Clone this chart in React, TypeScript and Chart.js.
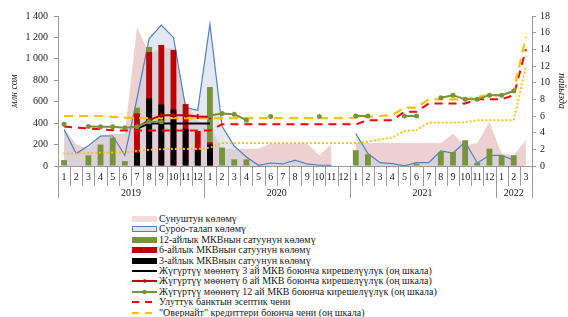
import React, { useEffect, useRef } from "react";
import { Chart, registerables } from "chart.js";

Chart.register(...registerables);

const monthLabels = [
  "1","2","3","4","5","6","7","8","9","10","11","12",
  "1","2","3","4","5","6","7","8","9","10","11","12",
  "1","2","3","4","5","6","7","8","9","10","11","12",
  "1","2","3",
];
const yearLabels = ["2019", "2020", "2021", "2022"];
const yearMonthCounts = [12, 12, 12, 3];

// left scale, млн сом
const supplyVolume = [
  350, 200, 160, 290, 300, 300, 1300, 1050, 1100, 1100, 600, 420,
  380, 160, 160, 160, 160, 210, 210, 210, 210, 100, 205, null,
  215, 215, 215, 215, 215, 215, 215, 215, 302, 193, 215, 411,
  116, 100, 246,
];
const demandVolume = [
  340, 116, 190, 280, 280, 100, 630, 1190, 1315, 1200, 545, 520,
  1325, 370, 185, 84, 7, 28, 19, 55, 19, 7, 7, null,
  302, 116, 31, 22, 2, 31, 31, 140, 121, 224, 28, 100,
  100, 55, null,
];
const sales12m = [
  55, null, 100, 200, 265, 45, 545, 1112, null, null, null, null,
  737, 172, 62, 62, null, null, null, null, null, null, null, null,
  147, 109, null, null, null, 22, null, 131, 131, 240, 31, 162,
  100, 100, null,
];
const sales6m = [
  null, null, null, null, null, null, 490, 1064, 1130, 1084, 578, 327,
  222, null, null, null, null, null, null, null, null, null, null, null,
  null, null, null, null, null, null, null, null, null, null, null, null,
  null, null, null,
];
const sales3m = [
  null, null, null, null, null, null, 123, 630, 574, 527, 349, 150,
  200, null, null, null, null, null, null, null, null, null, null, null,
  null, null, null, null, null, null, null, null, null, null, null, null,
  null, null, null,
];

// right scale, %
const yield3m = [
  null, null, null, null, null, null, 4.5, 5.1, 5.1, 5.1, 5.1, 5.1,
  5.1, null, null, null, null, null, null, null, null, null, null, null,
  null, null, null, null, null, null, null, null, null, null, null, null,
  null, null, null,
];
const yield6m = [
  null, null, null, null, null, null, 4.6, 5.5, 6.1, 6.1, 6.1, 5.95,
  5.9, null, null, null, null, null, null, null, null, null, null, null,
  null, null, null, null, null, null, null, null, null, null, null, null,
  null, null, null,
];
const yield12m = [
  5.0, null, 4.75, 4.7, 4.7, 4.6, 4.7, 5.3, 5.3, null, null, null,
  6.05, 6.3, 6.2, 5.5, null, 5.95, null, null, null, 5.95, null, null,
  6.0, 6.0, null, null, 6.0, 6.0, null, 8.2, 8.5, 8.0, 8.0, 8.5,
  8.5, 9.0, null,
];
const discountRate = [
  4.75, 4.6, 4.5, 4.4, 4.3, 4.25, 4.25, 4.25, 4.25, 4.25, 4.25, 4.25,
  4.25, 5.0, 5.0, 5.0, 5.0, 5.0, 5.0, 5.0, 5.0, 5.0, 5.0, 5.0,
  5.0, 5.5, 5.5, 5.5, 6.5, 6.5, 7.5, 7.5, 7.5, 7.5, 8.0, 8.0,
  8.0, 8.5, 14.0,
];
const overnightRate = [
  6.0, 6.0, 6.0, 6.0, 5.9, 5.8, 5.75, 5.75, 5.75, 5.75, 5.75, 5.75,
  5.75, 5.75, 5.75, 5.75, 5.75, 5.75, 5.75, 5.75, 5.75, 5.75, 5.75, 5.75,
  5.8, 5.9, 6.0, 6.1, 7.0, 7.0, 8.0, 8.0, 8.0, 8.0, 8.3, 8.5,
  8.5, 9.0, 15.5,
];
const dottedRate = [
  1.5, 1.5, 1.55, 1.6, 1.6, 1.65, 1.8, 1.95, 2.0, 2.05, 2.05, 2.05,
  2.2, 2.75, 2.75, 2.75, 2.75, 2.75, 2.75, 2.75, 2.75, 2.75, 2.75, 2.75,
  2.75, 2.9, 3.2, 3.4, 4.2, 4.3, 5.2, 5.2, 5.2, 5.25, 5.5, 5.5,
  5.5, 5.5, 12.0,
];

const seriesNames = [
  "Сунуштун көлөмү",
  "Суроо-талап көлөмү",
  "12-айлык МКВнын сатуунун көлөмү",
  "6-айлык МКВнын сатуунун көлөмү",
  "3-айлык МКВнын сатуунун көлөмү",
  "Жүгүртүү мөөнөтү 3 ай МКВ боюнча кирешелүүлүк (оң шкала)",
  "Жүгүртүү мөөнөтү 6 ай МКВ боюнча кирешелүүлүк (оң шкала)",
  "Жүгүртүү мөөнөтү 12 ай МКВ боюнча кирешелүүлүк (оң шкала)",
  "Улуттук банктын эсептик чени",
  "\"Овернайт\" кредиттери боюнча чени (оң шкала)",
];

const FONT = "'Liberation Serif', 'Times New Roman', serif";
const TEXT = "#1a1a1a";
const AXIS = "#9a9a9a";
const GREEN = "#77933c";
const RED = "#c00000";
const ORANGE = "#ffc000";

const separatorPlugin = {
  id: "separators",
  afterDraw(chart: any) {
    const { ctx, chartArea } = chart;
    const xs = chart.scales.x;
    const n = monthLabels.length;
    const w = (xs.right - xs.left) / n;
    const longIdx: number[] = [0];
    let acc = 0;
    yearMonthCounts.forEach((c) => { acc += c; longIdx.push(acc); });
    ctx.save();
    ctx.strokeStyle = AXIS;
    ctx.lineWidth = 1;
    for (let k = 0; k <= n; k++) {
      const px = Math.round(xs.left + k * w) + 0.5;
      const isLong = longIdx.includes(k);
      ctx.beginPath();
      ctx.moveTo(px, chartArea.bottom);
      ctx.lineTo(px, chartArea.bottom + (isLong ? 32 : 20));
      ctx.stroke();
    }
    ctx.font = `10px ${FONT}`;
    ctx.fillStyle = TEXT;
    ctx.textAlign = "center";
    ctx.textBaseline = "middle";
    let start = 0;
    yearLabels.forEach((yr, i) => {
      const cx = xs.left + (start + yearMonthCounts[i] / 2) * w;
      ctx.fillText(yr, cx, chartArea.bottom + 27);
      start += yearMonthCounts[i];
    });
    ctx.restore();
  },
};

function fmtThousands(v: number) {
  const s = String(Math.round(v));
  return s.replace(/\B(?=(\d{3})+(?!\d))/g, " ");
}

function Swatch({ kind }: { kind: number }) {
  const W = 26, H = 10;
  let el: any = null;
  if (kind === 0) el = <rect x={0} y={2} width={25} height={6} fill="#f2dcdb" />;
  else if (kind === 1) el = <rect x={0.5} y={2.5} width={24} height={5} fill="#dce6f2" stroke="#4f81bd" strokeWidth={1} />;
  else if (kind === 2) el = <rect x={0} y={2} width={25} height={6} fill={GREEN} />;
  else if (kind === 3) el = <rect x={0} y={2} width={25} height={6} fill={RED} />;
  else if (kind === 4) el = <rect x={0} y={2} width={25} height={6} fill="#000" />;
  else if (kind === 5) el = <line x1={0} y1={5} x2={25} y2={5} stroke="#000" strokeWidth={2} />;
  else if (kind === 6)
    el = (<g><line x1={0} y1={5} x2={25} y2={5} stroke={RED} strokeWidth={2} /><circle cx={12.5} cy={5} r={1.8} fill={RED} /></g>);
  else if (kind === 7)
    el = (<g><line x1={0} y1={5} x2={25} y2={5} stroke={GREEN} strokeWidth={2} /><circle cx={12.5} cy={5} r={2.2} fill={GREEN} /></g>);
  else if (kind === 8)
    el = (<g><line x1={0} y1={5} x2={7} y2={5} stroke="#ff0000" strokeWidth={2} /><line x1={13} y1={5} x2={20} y2={5} stroke="#ff0000" strokeWidth={2} /></g>);
  else if (kind === 9)
    el = (<g><line x1={0} y1={5} x2={7} y2={5} stroke={ORANGE} strokeWidth={2} /><line x1={13} y1={5} x2={20} y2={5} stroke={ORANGE} strokeWidth={2} /></g>);
  return (
    <svg width={W} height={H} style={{ display: "block", flex: "none" }}>
      {el}
    </svg>
  );
}

export default function App() {
  const canvasRef = useRef<HTMLCanvasElement | null>(null);

  useEffect(() => {
    const canvas = canvasRef.current;
    if (!canvas) return;
    const common = { pointRadius: 0, pointHoverRadius: 0, tension: 0, spanGaps: false };
    const chart = new Chart(canvas, {
      data: {
        labels: monthLabels,
        datasets: [
          {
            type: "line", label: seriesNames[0], data: supplyVolume, yAxisID: "y",
            borderWidth: 0, borderColor: "rgba(0,0,0,0)", backgroundColor: "rgba(222,170,170,0.55)",
            fill: "origin", order: 11, ...common,
          },
          {
            type: "line", label: seriesNames[1], data: demandVolume, yAxisID: "y",
            borderWidth: 1.2, borderColor: "#4f81bd", backgroundColor: "rgba(200,212,230,0.5)",
            fill: "origin", order: 10, ...common,
          },
          {
            type: "bar", label: seriesNames[2], data: sales12m, yAxisID: "y",
            backgroundColor: GREEN, grouped: false, barPercentage: 0.48, categoryPercentage: 1, order: 9,
          },
          {
            type: "bar", label: seriesNames[3], data: sales6m, yAxisID: "y",
            backgroundColor: RED, grouped: false, barPercentage: 0.48, categoryPercentage: 1, order: 8,
          },
          {
            type: "bar", label: seriesNames[4], data: sales3m, yAxisID: "y",
            backgroundColor: "#000", grouped: false, barPercentage: 0.48, categoryPercentage: 1, order: 7,
          },
          {
            type: "line", label: "dotted", data: dottedRate, yAxisID: "y1",
            borderColor: ORANGE, borderWidth: 2.2, borderDash: [0, 4], borderCapStyle: "round",
            fill: false, order: 6, ...common,
          },
          {
            type: "line", label: seriesNames[8], data: discountRate, yAxisID: "y1",
            borderColor: "#ff0000", borderWidth: 2, borderDash: [8, 6], fill: false, order: 5, ...common,
          },
          {
            type: "line", label: seriesNames[9], data: overnightRate, yAxisID: "y1",
            borderColor: ORANGE, borderWidth: 2.2, borderDash: [9, 6], fill: false, order: 4, ...common,
          },
          {
            type: "line", label: seriesNames[5], data: yield3m, yAxisID: "y1",
            borderColor: "#000", borderWidth: 2, fill: false, order: 3, ...common,
          },
          {
            type: "line", label: seriesNames[6], data: yield6m, yAxisID: "y1",
            borderColor: RED, borderWidth: 2, fill: false, order: 2, tension: 0, spanGaps: false,
            pointStyle: "line", rotation: 90, pointRadius: 2.5, pointBorderWidth: 2,
            pointBorderColor: RED, pointBackgroundColor: RED, pointHoverRadius: 0,
          },
          {
            type: "line", label: seriesNames[7], data: yield12m, yAxisID: "y1",
            borderColor: GREEN, borderWidth: 2, fill: false, order: 1, tension: 0, spanGaps: false,
            pointStyle: "circle", pointRadius: 2.5, pointBorderWidth: 0,
            pointBackgroundColor: GREEN, pointBorderColor: GREEN, pointHoverRadius: 0,
          },
        ],
      } as any,
      options: {
        animation: false,
        responsive: false,
        maintainAspectRatio: false,
        layout: { padding: { top: 16, left: 0, right: 0, bottom: 0 } },
        plugins: { legend: { display: false }, tooltip: { enabled: false } },
        scales: {
          x: {
            type: "category",
            offset: true,
            grid: { display: false, drawTicks: false, tickLength: 0 },
            border: { display: true, color: AXIS, width: 1 },
            ticks: { autoSkip: false, maxRotation: 0, minRotation: 0, padding: 5, color: TEXT, font: { family: FONT, size: 10 } },
            afterFit: (s: any) => { s.height = 44; },
          },
          y: {
            type: "linear",
            position: "left",
            min: 0,
            max: 1400,
            ticks: {
              stepSize: 200, padding: 6, color: TEXT, font: { family: FONT, size: 10 },
              callback: (v: any) => fmtThousands(Number(v)),
            },
            grid: { drawOnChartArea: false, tickLength: 4, color: AXIS },
            border: { color: AXIS },
            title: { display: true, text: "млн сом", color: TEXT, font: { family: FONT, size: 10, style: "italic" }, padding: { top: 8, bottom: 0 } },
            afterFit: (s: any) => { s.width = 58; },
          },
          y1: {
            type: "linear",
            position: "right",
            min: 0,
            max: 18,
            ticks: { stepSize: 2, padding: 4, color: TEXT, font: { family: FONT, size: 10 } },
            grid: { drawOnChartArea: false, tickLength: 4, color: AXIS },
            border: { color: AXIS },
            title: { display: true, text: "пайызда", color: TEXT, font: { family: FONT, size: 10, style: "italic" }, padding: { top: 0, bottom: 0 } },
            afterFit: (s: any) => { s.width = 36; },
          },
        },
      } as any,
      plugins: [separatorPlugin],
    });
    return () => chart.destroy();
  }, []);

  return (
    <div style={{ position: "fixed", left: 0, top: 0, width: 568, height: 317, background: "#fff", overflow: "hidden" }}>
      <canvas ref={canvasRef} width={568} height={210} style={{ display: "block", width: 568, height: 210 }} />
      {seriesNames.map((name, i) => (
        <div
          key={i}
          style={{
            position: "absolute", left: 132, top: 214 + i * 10.4, height: 10,
            display: "flex", alignItems: "center", whiteSpace: "nowrap",
            fontFamily: FONT, fontSize: 10, lineHeight: "10px", color: TEXT,
          }}
        >
          <Swatch kind={i} />
          <span style={{ marginLeft: 1 }}>{name}</span>
        </div>
      ))}
    </div>
  );
}
